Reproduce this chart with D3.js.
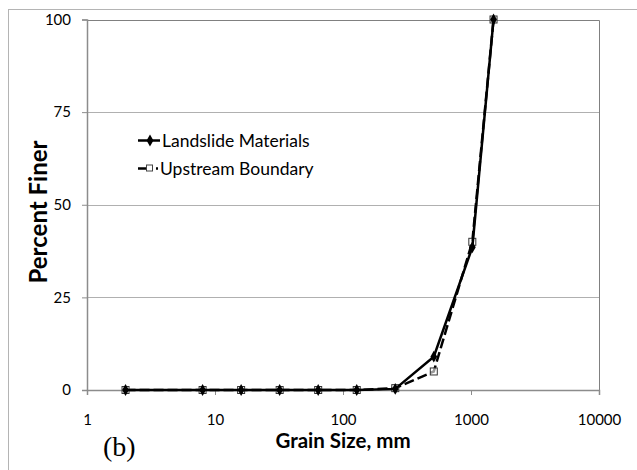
<!DOCTYPE html>
<html><head><meta charset="utf-8">
<script src="https://cdn.jsdelivr.net/npm/d3@7"></script>
<style>body{margin:0;background:#fff}svg{display:block}</style>
</head><body>
<script>
const grainSizes = [2, 8, 16, 32, 64, 128, 256, 512, 1024, 1500];
const landslide = [0, 0, 0, 0, 0, 0, 0.3, 9, 38.5, 100];
const upstream = [0, 0, 0, 0, 0, 0, 0.5, 5, 40, 100];
const xTicks = [1, 10, 100, 1000, 10000];
const yTicks = [0, 25, 50, 75, 100];
const seriesNames = ["Landslide Materials", "Upstream Boundary"];

const W = 637, H = 470;
const svg = d3.select("body").append("svg").attr("width", W).attr("height", H);
const font = "Lato, 'Open Sans', sans-serif";

// outer chart border
svg.append("rect").attr("x", 8.5).attr("y", 9.5).attr("width", 700).attr("height", 500)
  .attr("fill", "none").attr("stroke", "#b4b4b4");

const x = d3.scaleLog().domain([1, 10000]).range([87, 599]);
const y = d3.scaleLinear().domain([0, 100]).range([390, 19.5]);

// gridlines
svg.append("g").selectAll("line").data(yTicks.filter(d => d > 0 && d < 100)).join("line")
  .attr("x1", x(1)).attr("x2", x(10000))
  .attr("y1", d => Math.round(y(d)) + 0.5).attr("y2", d => Math.round(y(d)) + 0.5)
  .attr("stroke", "#b0b0b0").attr("stroke-width", 1);

// plot border top/right
svg.append("path")
  .attr("d", `M${x(1)},${Math.round(y(100)) + 0.5}H${Math.round(x(10000)) + 0.5}V${y(0)}`)
  .attr("fill", "none").attr("stroke", "#808080");

// y axis
const yAxis = svg.append("g").attr("transform", `translate(${x(1)},0)`)
  .call(d3.axisLeft(y).tickValues(yTicks).tickSize(5).tickPadding(11).tickFormat(d3.format("d")));
// x axis
const xAxis = svg.append("g").attr("transform", `translate(0,${y(0)})`)
  .call(d3.axisBottom(x).tickValues(xTicks).tickSize(5).tickPadding(19).tickFormat(d3.format("d")));
[yAxis, xAxis].forEach(a => {
  a.select(".domain").attr("stroke", "#8c8c8c").attr("stroke-width", 1.5);
  a.selectAll(".tick line").attr("stroke", "#8c8c8c");
  a.selectAll("text").attr("font-family", font).attr("font-size", 15).attr("fill", "#000");
});

// series lines
const line = d3.line().x(d => x(d[0])).y(d => y(d[1]));
const upData = grainSizes.map((g, i) => [g, upstream[i]]);
const lsData = grainSizes.map((g, i) => [g, landslide[i]]);

svg.append("path").datum(upData).attr("d", line).attr("fill", "none")
  .attr("stroke", "#000").attr("stroke-width", 2.5).attr("stroke-dasharray", "10,4");
svg.append("g").selectAll("rect").data(upData).join("rect")
  .attr("x", d => x(d[0]) - 3.5).attr("y", d => y(d[1]) - 3.5)
  .attr("width", 7).attr("height", 7).attr("fill", "#fff").attr("fill-opacity", 0.6)
  .attr("stroke", "#333").attr("stroke-width", 1);

svg.append("path").datum(lsData).attr("d", line).attr("fill", "none")
  .attr("stroke", "#000").attr("stroke-width", 2.5);
const diamond = d3.symbol().type(d3.symbolDiamond).size(40);
svg.append("g").selectAll("path").data(lsData).join("path")
  .attr("transform", d => `translate(${x(d[0])},${y(d[1])})`)
  .attr("d", diamond).attr("fill", "#000");

// legend
const lg = svg.append("g");
lg.append("line").attr("x1", 138).attr("x2", 160).attr("y1", 140.5).attr("y2", 140.5)
  .attr("stroke", "#000").attr("stroke-width", 2.5);
lg.append("path").attr("transform", "translate(150,140.5)").attr("d", diamond).attr("fill", "#000");
lg.append("text").attr("x", 162).attr("y", 146.5).attr("font-family", font).attr("font-size", 17.5)
  .text(seriesNames[0]);

lg.append("line").attr("x1", 138).attr("x2", 158).attr("y1", 168.5).attr("y2", 168.5)
  .attr("stroke", "#000").attr("stroke-width", 2.5).attr("stroke-dasharray", "9,9,2,10");
lg.append("rect").attr("x", 146.5).attr("y", 165).attr("width", 6).attr("height", 6)
  .attr("fill", "#fff").attr("stroke", "#444").attr("stroke-width", 1);
lg.append("text").attr("x", 160).attr("y", 174.5).attr("font-family", font).attr("font-size", 17.5)
  .text(seriesNames[1]);

// axis titles
svg.append("text").attr("transform", "translate(47,212) rotate(-90)")
  .attr("text-anchor", "middle").attr("font-family", font).attr("font-weight", "bold")
  .attr("font-size", 24).text("Percent Finer");
svg.append("text").attr("x", 343).attr("y", 448)
  .attr("text-anchor", "middle").attr("font-family", font).attr("font-weight", "bold")
  .attr("font-size", 20.5).text("Grain Size, mm");
svg.append("text").attr("x", 103).attr("y", 456)
  .attr("font-family", "'Liberation Serif', 'DejaVu Serif', serif")
  .attr("font-size", 28).text("(b)");
</script>
</body></html>
